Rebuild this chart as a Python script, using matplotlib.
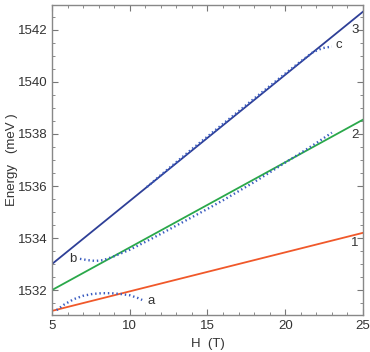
import matplotlib
matplotlib.use("Agg")
import matplotlib.pyplot as plt
from matplotlib.ticker import MultipleLocator

plt.rcParams['font.family'] = ['Liberation Sans', 'DejaVu Sans']

# straight lines (levels 1, 2, 3)
H_lines = [5, 25]
E1 = [1531.2, 1534.2]
E2 = [1532.0, 1538.55]
E3 = [1533.0, 1542.7]

# dotted curves a, b, c
H_a = [5.3, 5.8, 6.4, 7.0, 7.6, 8.2, 8.8, 9.4, 10.0, 10.5, 10.8]
E_a = [1531.23, 1531.45, 1531.65, 1531.78, 1531.85, 1531.88, 1531.88, 1531.85, 1531.8, 1531.7, 1531.62]

H_b = [6.8, 7.3, 7.8, 8.3, 9.0, 10, 11, 12, 13, 14, 15, 16, 17, 18, 19, 20, 21, 22, 23]
E_b = [1533.2, 1533.15, 1533.12, 1533.15, 1533.3, 1533.55, 1533.85, 1534.16, 1534.48, 1534.8,
       1535.12, 1535.45, 1535.8, 1536.15, 1536.52, 1536.9, 1537.27, 1537.65, 1538.05]

H_c = [11.1, 12, 13, 14, 15, 16, 17, 18, 19, 20, 21, 21.8, 22.4, 23.0]
E_c = [1535.96, 1536.42, 1536.92, 1537.42, 1537.9, 1538.39, 1538.87, 1539.36, 1539.84, 1540.32,
       1540.79, 1541.15, 1541.3, 1541.36]

curve_labels = ['a', 'b', 'c']
level_labels = ['1', '2', '3']

blue = '#2e3f97'
green = '#2aa84a'
orange = '#f0582a'
dot_blue = '#3a5cc0'
txt = '#333333'

fig = plt.figure(figsize=(3.7, 3.52), dpi=100)
ax = fig.add_axes([0.1405, 0.105, 0.8405, 0.881])

ax.plot(H_lines, E1, color=orange, lw=1.3)
ax.plot(H_lines, E2, color=green, lw=1.3)
ax.plot(H_lines, E3, color=blue, lw=1.3)

for H, E in [(H_a, E_a), (H_b, E_b), (H_c, E_c)]:
    ax.plot(H, E, color=dot_blue, lw=1.7, ls=(0, (0.6, 1.2)), dash_capstyle='butt')

ax.text(H_a[-1] + 0.35, E_a[-1] - 0.05, curve_labels[0], fontsize=9.5, color=txt, va='center', ha='left')
ax.text(H_b[0] - 0.2, E_b[0], curve_labels[1], fontsize=9.5, color=txt, va='center', ha='right')
ax.text(H_c[-1] + 0.25, E_c[-1] + 0.05, curve_labels[2], fontsize=9.5, color=txt, va='center', ha='left')

ax.text(24.5, 1533.8, level_labels[0], fontsize=9.5, color=txt, va='center', ha='center')
ax.text(24.5, 1537.97, level_labels[1], fontsize=9.5, color=txt, va='center', ha='center')
ax.text(24.5, 1542.0, level_labels[2], fontsize=9.5, color=txt, va='center', ha='center')

ax.set_xlim(5, 25)
ax.set_ylim(1531.04, 1542.96)
ax.xaxis.set_major_locator(MultipleLocator(5))
ax.xaxis.set_minor_locator(MultipleLocator(1))
ax.yaxis.set_major_locator(MultipleLocator(2))
ax.yaxis.set_minor_locator(MultipleLocator(0.5))
ax.tick_params(which='both', direction='in', top=True, right=True, colors='#777777',
               labelcolor=txt, labelsize=9.5)
ax.tick_params(which='major', length=4)
ax.tick_params(which='minor', length=2.5)
for s in ax.spines.values():
    s.set_color('#888888')
    s.set_linewidth(1.0)

ax.set_xlabel('H  (T)', fontsize=9.5, color=txt)
ax.xaxis.set_label_coords(0.5, -0.075)
ax.set_ylabel('Energy   (meV )', fontsize=9.5, color=txt)
ax.yaxis.set_label_coords(-0.108, 0.5)

fig.savefig('out.png', dpi=100)
